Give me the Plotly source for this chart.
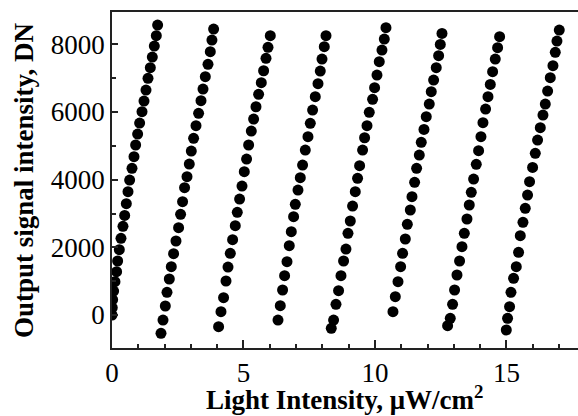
import plotly.graph_objects as go

# Series (x: light intensity, y: output DN)
s1_x = [1.735, 1.685, 1.609, 1.533, 1.457, 1.369, 1.293, 1.217, 1.141, 1.051, 0.975, 0.899, 0.836, 0.760,
        0.671, 0.608, 0.545, 0.481, 0.417, 0.341, 0.278, 0.215, 0.175, 0.113, 0.062, 0.024, 0.010, 0.0]
s1_y = [8570, 8254, 7949, 7624, 7309, 6994, 6649, 6324, 6009, 5674, 5349, 5024, 4679, 4334,
        3989, 3644, 3290, 2944, 2620, 2265, 1931, 1596, 1280, 985, 709, 453, 217, 0]

s2_x = [3.864, 3.80, 3.738, 3.65, 3.548, 3.46, 3.384, 3.293, 3.194, 3.103, 3.015, 2.939, 2.852, 2.76,
        2.684, 2.608, 2.532, 2.433, 2.342, 2.255, 2.179, 2.091, 2.027, 1.939, 1.863]
s2_y = [8451, 8126, 7781, 7408, 7042, 6678, 6333, 5960, 5594, 5221, 4846, 4462, 4087, 3762,
        3348, 2975, 2580, 2187, 1811, 1428, 1064, 670, 266, -148, -542]

s3_x = [6.019, 5.932, 5.856, 5.765, 5.677, 5.575, 5.475, 5.385, 5.297, 5.195, 5.118, 5.03, 4.943, 4.852,
        4.764, 4.688, 4.586, 4.498, 4.411, 4.335, 4.243, 4.144, 4.053]
s3_y = [8254, 7910, 7585, 7219, 6865, 6521, 6155, 5792, 5437, 5024, 4610, 4235, 3812, 3428,
        3034, 2639, 2225, 1822, 1418, 1005, 512, 98, -345]

s4_x = [8.137, 8.072, 7.985, 7.92, 7.833, 7.73, 7.628, 7.54, 7.452, 7.35, 7.247, 7.16, 7.072, 6.97,
        6.905, 6.818, 6.741, 6.654, 6.563, 6.487, 6.399, 6.312]
s4_y = [8254, 7929, 7565, 7210, 6835, 6451, 6058, 5665, 5270, 4876, 4432, 4058, 3694, 3270,
        2906, 2462, 2048, 1576, 1162, 739, 276, -148]

s5_x = [10.418, 10.354, 10.266, 10.163, 10.076, 9.985, 9.909, 9.783, 9.696, 9.605, 9.529, 9.415, 9.338,
        9.251, 9.148, 9.061, 8.973, 8.897, 8.806, 8.707, 8.616, 8.517, 8.426, 8.338]
s5_y = [8490, 8156, 7831, 7486, 7092, 6717, 6374, 5989, 5594, 5239, 4876, 4412, 4039,
        3644, 3221, 2778, 2413, 1950, 1596, 1162, 719, 315, -148, -394]

s6_x = [12.548, 12.484, 12.42, 12.33, 12.23, 12.14, 12.065, 11.95, 11.863, 11.76, 11.685, 11.583, 11.507,
        11.407, 11.343, 11.23, 11.153, 11.05, 10.975, 10.875, 10.773, 10.684]
s6_y = [8323, 7998, 7663, 7309, 6944, 6600, 6235, 5861, 5486, 5102, 4728, 4334, 3920,
        3497, 3103, 2679, 2246, 1822, 1428, 985, 542, 98]

s7_x = [14.739, 14.663, 14.574, 14.473, 14.385, 14.297, 14.206, 14.106, 14.03, 13.94, 13.852, 13.75,
        13.662, 13.586, 13.498, 13.397, 13.308, 13.217, 13.118, 13.027, 12.951, 12.863, 12.762]
s7_y = [8225, 7900, 7565, 7191, 6816, 6451, 6087, 5684, 5270, 4856, 4452, 4019,
        3625, 3251, 2837, 2413, 2019, 1596, 1182, 739, 315, -99, -315]

s8_x = [17.008, 16.92, 16.856, 16.768, 16.666, 16.565, 16.476, 16.388, 16.286, 16.183, 16.096, 15.993,
        15.878, 15.802, 15.715, 15.627, 15.525, 15.46, 15.373, 15.27, 15.171, 15.118, 15.042, 14.993]
s8_y = [8422, 8097, 7762, 7368, 7013, 6619, 6235, 5910, 5536, 5171, 4777, 4363,
        3940, 3546, 3152, 2738, 2344, 1852, 1428, 1083, 670, 246, -99, -443]

x_ticks = [0, 5, 10, 15]
y_ticks = [0, 2000, 4000, 6000, 8000]
x_title = "Light Intensity, \u03bcW/cm<sup>2</sup>"
y_title = "Output signal intensity, DN"

series = [(s1_x, s1_y), (s2_x, s2_y), (s3_x, s3_y), (s4_x, s4_y),
          (s5_x, s5_y), (s6_x, s6_y), (s7_x, s7_y), (s8_x, s8_y)]

FONT = "Liberation Serif, Times New Roman, serif"
AX = "#222222"

fig = go.Figure()
for xs, ys in series:
    fig.add_trace(go.Scatter(x=xs, y=ys, mode="markers",
                             marker=dict(size=11, color="black", line=dict(width=0)),
                             showlegend=False))

fig.update_layout(
    width=578, height=416,
    margin=dict(l=112, r=0, t=12, b=68),
    paper_bgcolor="white", plot_bgcolor="white",
    font=dict(family=FONT, size=27, color="black"),
    xaxis=dict(range=[0, 17.72], tickvals=x_ticks, ticktext=[str(v) for v in x_ticks],
               ticks="inside", ticklen=8, tickwidth=1.5, tickcolor=AX,
               showline=True, linecolor=AX, linewidth=1.5, mirror=True,
               showgrid=False, zeroline=False,
               minor=dict(dtick=1, tick0=0, ticks="inside", ticklen=4, tickwidth=1.5, tickcolor=AX),
               tickfont=dict(family=FONT, size=27)),
    yaxis=dict(range=[-975, 8955], tickvals=y_ticks, ticktext=[str(v) for v in y_ticks],
               ticks="inside", ticklen=6, tickwidth=1.5, tickcolor=AX,
               showline=True, linecolor=AX, linewidth=1.5, mirror=False,
               showgrid=False, zeroline=False,
               minor=dict(dtick=1000, tick0=0, ticks="inside", ticklen=4, tickwidth=1.5, tickcolor=AX),
               tickfont=dict(family=FONT, size=27)),
    yaxis2=dict(range=[-975, 8955], overlaying="y", side="right", matches="y",
                tickvals=y_ticks, showticklabels=False,
                ticks="inside", ticklen=6, tickwidth=1.5, tickcolor=AX,
                showline=False, showgrid=False, zeroline=False),
    annotations=[
        dict(text="<b>" + x_title + "</b>", xref="paper", yref="paper", x=0.5, y=0,
             xanchor="center", yanchor="top", yshift=-31, showarrow=False,
             font=dict(family=FONT, size=27, color="black")),
        dict(text="<b>" + y_title + "</b>", xref="paper", yref="paper", x=0, y=0.5,
             xanchor="left", yanchor="middle", xshift=-105, textangle=-90, showarrow=False,
             font=dict(family=FONT, size=27, color="black")),
    ],
)

fig.write_html("out.html")
